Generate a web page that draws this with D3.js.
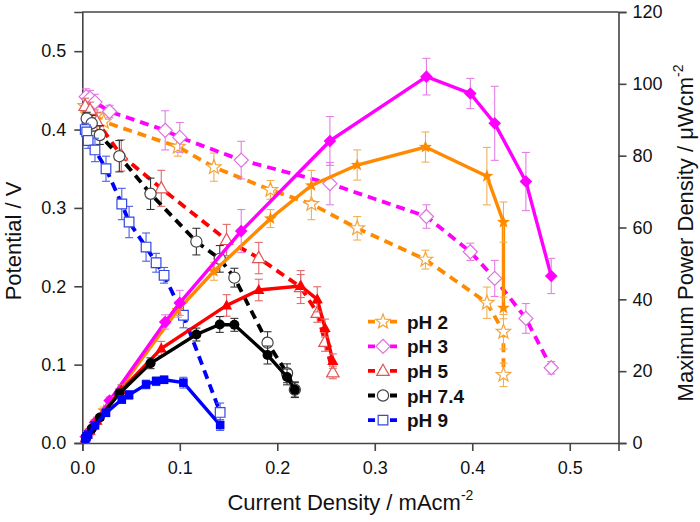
<!DOCTYPE html>
<html><head><meta charset="utf-8">
<script src="https://cdn.jsdelivr.net/npm/d3@7"></script>
<style>
body{margin:0;background:#fff;}
svg{display:block;font-family:"Liberation Sans",Arial,sans-serif;}
</style></head>
<body><svg id="chart" width="700" height="522"></svg>
<script>
// ---- data (current density mA/cm2, potential V, power uW/cm2) ----
const seriesNames = ["pH 2", "pH 3", "pH 5", "pH 7.4", "pH 9"];

const current_pH2      = [0.003, 0.008, 0.014, 0.022, 0.098, 0.135, 0.193, 0.235, 0.282, 0.352, 0.415, 0.432, 0.432];
const potential_pH2    = [0.430, 0.425, 0.418, 0.410, 0.378, 0.352, 0.323, 0.305, 0.274, 0.234, 0.179, 0.142, 0.087];
const potentialErr_pH2 = [0.008, 0.008, 0.010, 0.012, 0.012, 0.018, 0.012, 0.020, 0.015, 0.012, 0.020, 0.022, 0.015];
const power_pH2        = [1.3, 3.4, 5.9, 9.0, 37.0, 47.8, 62.5, 71.7, 77.4, 82.4, 74.3, 61.5, 37.6];
const powerErr_pH2     = [0.5, 0.5, 0.8, 1.0, 2.0, 2.5, 2.5, 4.2, 4.2, 4.2, 8.0, 5.6, 3.0];

const current_pH3      = [0.004, 0.008, 0.013, 0.028, 0.085, 0.100, 0.163, 0.254, 0.353, 0.398, 0.423, 0.455, 0.481];
const potential_pH3    = [0.442, 0.440, 0.435, 0.423, 0.399, 0.390, 0.361, 0.331, 0.289, 0.244, 0.210, 0.159, 0.096];
const potentialErr_pH3 = [0.010, 0.010, 0.010, 0.008, 0.025, 0.019, 0.024, 0.027, 0.015, 0.011, 0.023, 0.019, 0.008];
const power_pH3        = [1.8, 3.5, 5.7, 11.8, 33.7, 39.0, 59.0, 84.1, 102.0, 97.3, 89.0, 72.8, 46.5];
const powerErr_pH3     = [0.5, 0.5, 0.8, 1.0, 2.0, 3.5, 6.0, 6.8, 5.1, 4.2, 10.3, 8.1, 4.9];

const current_pH5      = [0.003, 0.008, 0.015, 0.040, 0.081, 0.148, 0.181, 0.224, 0.241, 0.249, 0.257];
const potential_pH5    = [0.430, 0.425, 0.410, 0.367, 0.325, 0.259, 0.236, 0.199, 0.166, 0.129, 0.090];
const potentialErr_pH5 = [0.010, 0.010, 0.012, 0.020, 0.023, 0.020, 0.020, 0.021, 0.012, 0.012, 0.008];
const power_pH5        = [1.3, 3.4, 6.2, 14.7, 26.3, 38.3, 42.6, 43.7, 40.0, 32.0, 22.8];
const powerErr_pH5     = [0.5, 0.5, 1.0, 1.5, 2.0, 3.0, 3.0, 3.2, 3.5, 2.5, 2.0];

const current_pH74      = [0.0045, 0.0097, 0.018, 0.038, 0.070, 0.117, 0.141, 0.156, 0.190, 0.210, 0.218];
const potential_pH74    = [0.414, 0.408, 0.393, 0.366, 0.318, 0.257, 0.235, 0.211, 0.128, 0.089, 0.068];
const potentialErr_pH74 = [0.008, 0.010, 0.012, 0.020, 0.020, 0.017, 0.017, 0.012, 0.014, 0.012, 0.010];
const power_pH74        = [1.9, 4.0, 7.1, 13.8, 22.2, 30.2, 33.0, 32.9, 24.5, 18.4, 14.8];
const powerErr_pH74     = [0.5, 0.5, 0.8, 1.2, 1.5, 1.8, 2.2, 1.8, 2.5, 2.2, 2.0];

const current_pH9      = [0.003, 0.0045, 0.006, 0.013, 0.0243, 0.0405, 0.048, 0.0654, 0.0757, 0.0839, 0.1037, 0.1414];
const potential_pH9    = [0.400, 0.397, 0.386, 0.374, 0.350, 0.305, 0.282, 0.250, 0.230, 0.214, 0.163, 0.039];
const potentialErr_pH9 = [0.008, 0.008, 0.010, 0.015, 0.016, 0.020, 0.020, 0.018, 0.012, 0.010, 0.016, 0.012];
const power_pH9        = [1.2, 1.8, 2.3, 4.9, 8.4, 12.1, 13.4, 16.3, 17.2, 17.6, 16.8, 5.0];
const powerErr_pH9     = [0.3, 0.4, 0.5, 0.6, 1.0, 1.0, 1.2, 1.2, 1.2, 1.0, 1.5, 1.5];

const xTicks = [0, 0.1, 0.2, 0.3, 0.4, 0.5];
const yLeftTicks = [0, 0.1, 0.2, 0.3, 0.4, 0.5];
const yRightTicks = [0, 20, 40, 60, 80, 100, 120];

// ---- styles ----
const styles = [
  {shape:"star",     line:"#ff8a00", open:"#f3a43a", err:"#f2b055"},
  {shape:"diamond",  line:"#ff00ff", open:"#e070e0", err:"#e47fe4"},
  {shape:"triangle", line:"#ff0000", open:"#e05555", err:"#e06a6a"},
  {shape:"circle",   line:"#000000", open:"#444444", err:"#333333"},
  {shape:"square",   line:"#0000ff", open:"#3348e0", err:"#4a5fe6"}
];

const table = [
  [current_pH2, potential_pH2, potentialErr_pH2, power_pH2, powerErr_pH2],
  [current_pH3, potential_pH3, potentialErr_pH3, power_pH3, powerErr_pH3],
  [current_pH5, potential_pH5, potentialErr_pH5, power_pH5, powerErr_pH5],
  [current_pH74, potential_pH74, potentialErr_pH74, power_pH74, powerErr_pH74],
  [current_pH9, potential_pH9, potentialErr_pH9, power_pH9, powerErr_pH9]
].map((a, i) => ({
  name: seriesNames[i], style: styles[i],
  pts: a[0].map((c, j) => ({x: c, v: a[1][j], ve: a[2][j], p: a[3][j], pe: a[4][j]}))
}));

// ---- layout ----
const L = 82.3, R = 618.5, T = 12, B = 443;
const svg = d3.select("#chart");
const x = d3.scaleLinear().domain([0, 0.55]).range([L, R]);
const yL = d3.scaleLinear().domain([0, 0.55]).range([B, T]);
const yR = d3.scaleLinear().domain([0, 120]).range([B, T]);

function shapePath(shape, open) {
  const k = open ? 1.12 : 1;
  if (shape === "star") {
    const r = 6.8 * k, ri = r * 0.42; let d = "";
    for (let i = 0; i < 10; i++) {
      const a = -Math.PI / 2 + i * Math.PI / 5, rr = i % 2 ? ri : r;
      d += (i ? "L" : "M") + (rr * Math.cos(a)).toFixed(2) + "," + (rr * Math.sin(a)).toFixed(2);
    }
    return d + "Z";
  }
  if (shape === "diamond") { const h = 6.3 * k; return `M0,${-h}L${h},0L0,${h}L${-h},0Z`; }
  if (shape === "triangle") { const w = 5.6 * k, h = 10 * k; return `M0,${-h*0.6}L${w},${h*0.4}L${-w},${h*0.4}Z`; }
  if (shape === "square") { const s = 4.3 * k; return `M${-s},${-s}H${s}V${s}H${-s}Z`; }
  const r = 5 * k;
  return `M${r},0A${r},${r} 0 1,1 ${-r},0A${r},${r} 0 1,1 ${r},0Z`;
}

// ---- axes ----
const axG = svg.append("g").attr("font-size", 18);
const fmt = d3.format(".1f");
const bottom = axG.append("g").attr("transform", `translate(0,${B})`)
  .call(d3.axisBottom(x).tickValues(xTicks).tickFormat(fmt).tickSizeOuter(0).tickSize(8).tickPadding(10));
const left = axG.append("g").attr("transform", `translate(${L},0)`)
  .call(d3.axisLeft(yL).tickValues(yLeftTicks).tickFormat(fmt).tickSizeOuter(0).tickSize(8).tickPadding(8));
const right = axG.append("g").attr("transform", `translate(${R},0)`)
  .call(d3.axisRight(yR).tickValues(yRightTicks).tickFormat(d3.format("d")).tickSizeOuter(0).tickSize(8).tickPadding(6));
[bottom, left, right].forEach(g => {
  g.attr("font-family", null).attr("font-size", null);
  g.selectAll("path.domain,line").attr("stroke", "#444").attr("stroke-width", 1.6);
  g.selectAll("text").attr("fill", "#111");
});
axG.append("line").attr("x1", L).attr("x2", R).attr("y1", T).attr("y2", T)
  .attr("stroke", "#444").attr("stroke-width", 1.6);

// axis titles
const xt = svg.append("text").attr("x", (L + R) / 2).attr("y", 510).attr("text-anchor", "middle")
  .attr("font-size", 22).attr("fill", "#111");
xt.append("tspan").text("Current Density / mAcm");
xt.append("tspan").attr("font-size", 14).attr("dy", -10).text("-2");

svg.append("text").attr("transform", "translate(21,241) rotate(-90)").attr("text-anchor", "middle")
  .attr("font-size", 22).attr("fill", "#111").text("Potential / V");

const rt = svg.append("text").attr("transform", "translate(693,233) rotate(-90)").attr("text-anchor", "middle")
  .attr("font-size", 22).attr("fill", "#111");
rt.append("tspan").text("Maximum Power Density / \u03bcWcm");
rt.append("tspan").attr("font-size", 14).attr("dy", -10).text("-2");

// ---- data drawing ----
const plot = svg.append("g");
const lineV = d3.line().x(d => x(d.x)).y(d => yL(d.v));
const lineP = d3.line().x(d => x(d.x)).y(d => yR(d.p));

function errBars(g, pts, yScale, key, ekey, color) {
  const eg = g.append("g").attr("stroke", color).attr("stroke-width", 1.1).attr("fill", "none");
  pts.forEach(d => {
    const cx = x(d.x), y1 = yScale(d[key] - d[ekey]), y2 = yScale(d[key] + d[ekey]);
    eg.append("line").attr("x1", cx).attr("x2", cx).attr("y1", y1).attr("y2", y2);
    eg.append("line").attr("x1", cx - 4).attr("x2", cx + 4).attr("y1", y1).attr("y2", y1);
    eg.append("line").attr("x1", cx - 4).attr("x2", cx + 4).attr("y1", y2).attr("y2", y2);
  });
}

table.forEach(s => {
  const st = s.style;
  // potential (dashed, open markers)
  plot.append("path").datum(s.pts).attr("d", lineV).attr("fill", "none")
    .attr("stroke", st.line).attr("stroke-width", 3.8).attr("stroke-dasharray", "9,6");
  errBars(plot, s.pts, yL, "v", "ve", st.err);
  plot.append("g").selectAll("path").data(s.pts).join("path")
    .attr("transform", d => `translate(${x(d.x)},${yL(d.v)})`)
    .attr("d", shapePath(st.shape, true)).attr("fill", "#fff")
    .attr("stroke", st.open).attr("stroke-width", 1.2);
});
table.forEach(s => {
  const st = s.style;
  // power (solid, filled markers)
  plot.append("path").datum(s.pts).attr("d", lineP).attr("fill", "none")
    .attr("stroke", st.line).attr("stroke-width", 3.4);
  errBars(plot, s.pts, yR, "p", "pe", st.err);
  plot.append("g").selectAll("path").data(s.pts).join("path")
    .attr("transform", d => `translate(${x(d.x)},${yR(d.p)})`)
    .attr("d", shapePath(st.shape, false)).attr("fill", st.line);
});

// ---- legend ----
const lg = svg.append("g");
table.forEach((s, i) => {
  const cy = 321.7 + i * 24.6;
  const g = lg.append("g").attr("transform", `translate(0,${cy})`);
  g.append("line").attr("x1", 368).attr("x2", 397).attr("y1", 0).attr("y2", 0)
    .attr("stroke", s.style.line).attr("stroke-width", 3.8).attr("stroke-dasharray", "7,4");
  g.append("path").attr("transform", "translate(383,0)").attr("d", shapePath(s.style.shape, true))
    .attr("fill", "#fff").attr("stroke", s.style.open).attr("stroke-width", 1.2);
  g.append("text").attr("x", 407).attr("y", 7).attr("font-size", 19).attr("font-weight", "bold")
    .attr("fill", "#111").text(s.name);
});
</script></body></html>
